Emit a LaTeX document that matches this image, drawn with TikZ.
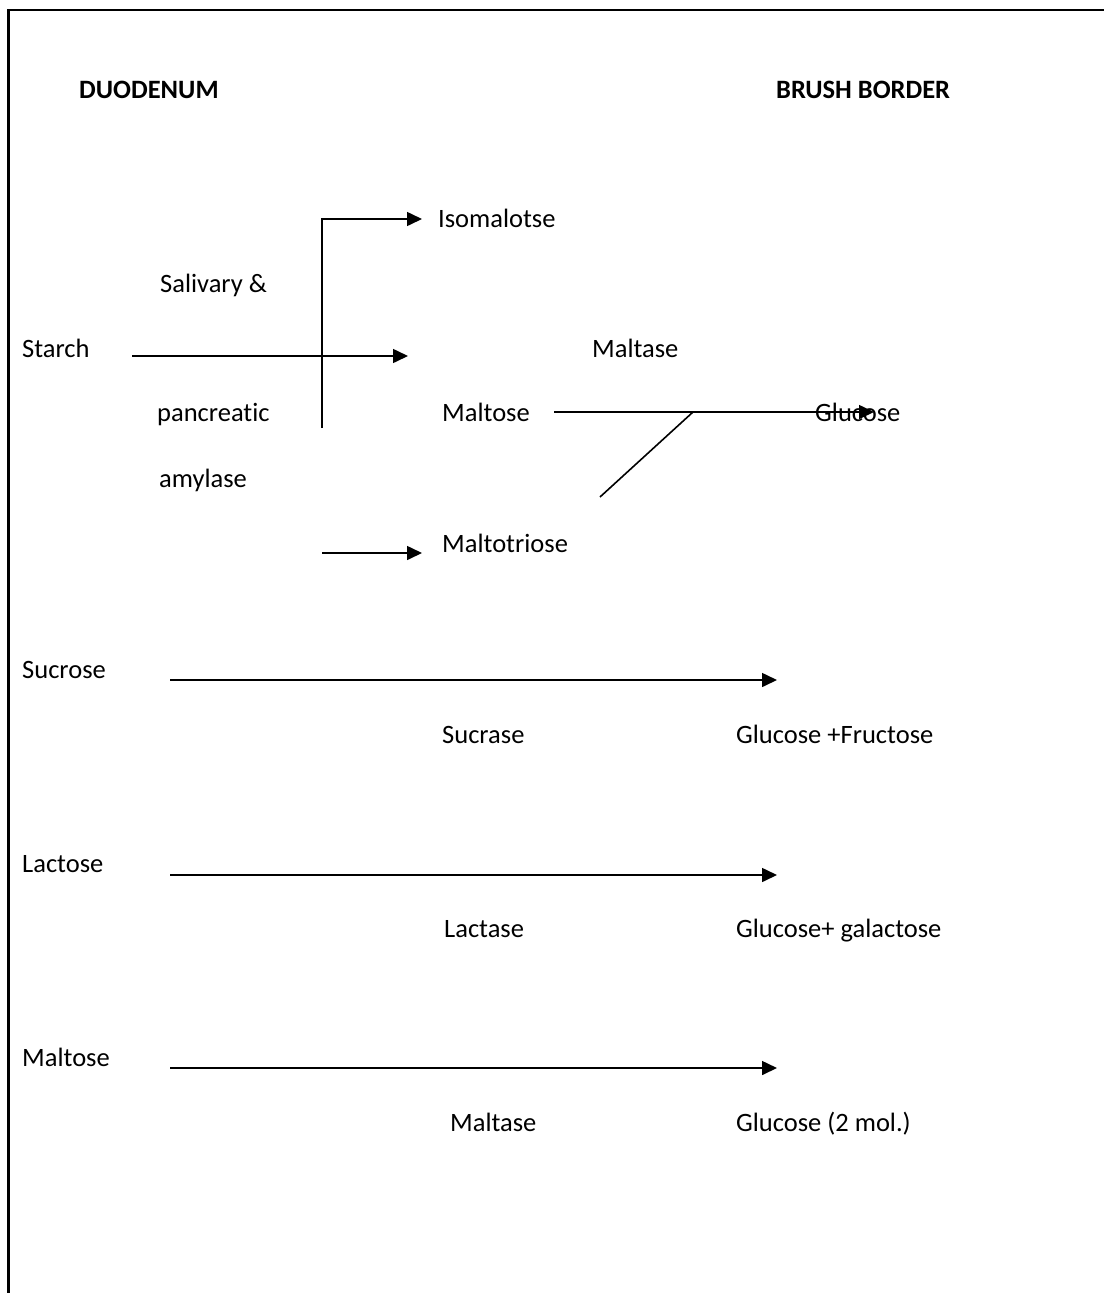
\documentclass[tikz,border=0pt]{standalone}
\usepackage{fontspec}
\setmainfont[Ligatures=NoCommon]{Carlito}
\usetikzlibrary{arrows.meta}
\begin{document}
\begin{tikzpicture}[x=1pt,y=-1pt,
  lbl/.style={anchor=base west, inner sep=0pt, font=\fontsize{26.5}{31}\selectfont},
  hdr/.style={lbl, font=\fontsize{26.5}{31}\selectfont\bfseries},
  flow/.style={draw=black, line width=1.6pt, -{Triangle[length=15pt,width=14pt]}},
  bar/.style={draw=black, line width=1.6pt}]
\useasboundingbox (0,0) rectangle (1104,1293);
\draw [line width=2.7pt, line join=miter] (8.5,1293)--(8.5,10)--(1104,10);
\draw (79,98) node[hdr](duo){DUODENUM}
(776,98) node[hdr](bb){BRUSH BORDER};
\draw (22,357) node[lbl](starch){Starch}
(160,292) node[lbl](sal){Salivary \&}
(157,421) node[lbl](pan){pancreatic}
(159,487) node[lbl](amy){amylase}
(438,227) node[lbl](iso){Isomalotse}
(442,421) node[lbl](malt){Maltose}
(442,552) node[lbl](mtri){Maltotriose}
(592,357) node[lbl](mase){Maltase}
(815,421) node[lbl](glc){Glucose};
\coordinate (st1) at (132,356);
\coordinate (st2) at (408,356);
\coordinate (v1) at (322,428);
\coordinate (v2) at (322,219);
\coordinate (iso1) at (422,219);
\coordinate (mt1) at (322,553);
\coordinate (mt2) at (422,553);
\coordinate (ml1) at (554,412);
\coordinate (ml2) at (874,412);
\coordinate (jn) at (693,412);
\coordinate (dg) at (600,497);
\draw [flow] (st1)--(st2);
\draw [flow] (v1)--(v2)--(iso1);
\draw [flow] (mt1)--(mt2);
\draw [flow] (ml1)--(ml2);
\draw [bar] (jn)--(dg);
% brush border enzymes
\draw (22,678) node[lbl](suc){Sucrose}
(442,743) node[lbl](sucase){Sucrase}
(736,743) node[lbl](glfr){Glucose +Fructose};
\coordinate (su1) at (170,680);
\coordinate (su2) at (777,680);
\draw [flow] (su1)--(su2);
\draw (22,872) node[lbl](lac){Lactose}
(444,937) node[lbl](lacase){Lactase}
(736,937) node[lbl](glga){Glucose+ galactose};
\coordinate (la1) at (170,875);
\coordinate (la2) at (777,875);
\draw [flow] (la1)--(la2);
\draw (22,1066) node[lbl](mal){Maltose}
(450,1131) node[lbl](malase){Maltase}
(736,1131) node[lbl](gl2){Glucose (2 mol.)};
\coordinate (ma1) at (170,1068);
\coordinate (ma2) at (777,1068);
\draw [flow] (ma1)--(ma2);
\end{tikzpicture}
\end{document}
